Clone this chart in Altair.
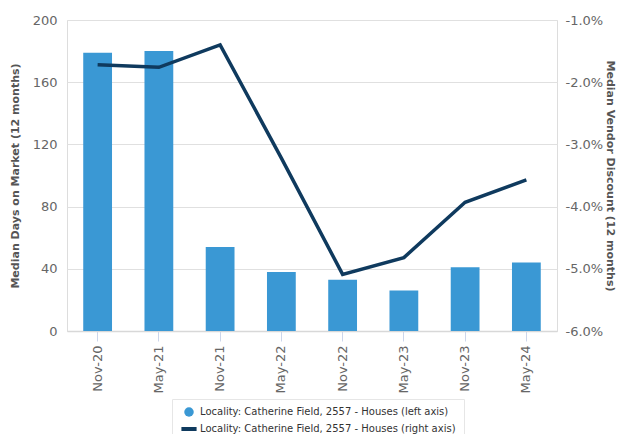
import altair as alt
import pandas as pd

periods = ["Nov-20", "May-21", "Nov-21", "May-22", "Nov-22", "May-23", "Nov-23", "May-24"]
days_on_market = [179, 180, 54, 38, 33, 26, 41, 44]
vendor_discount = [-1.72, -1.76, -1.40, -3.22, -5.09, -4.82, -3.93, -3.57]

bar_name = "Locality: Catherine Field, 2557 - Houses (left axis)"
line_name = "Locality: Catherine Field, 2557 - Houses (right axis)"

bar_color = "#3a98d4"
line_color = "#0f3a5e"

bars_df = pd.DataFrame({"period": periods, "days": days_on_market, "series": bar_name})
line_df = pd.DataFrame({"period": periods, "discount": vendor_discount, "series": line_name})

FONT = "DejaVu Sans"
LABEL_COLOR = "#666666"

x_enc = alt.X(
    "period:N",
    sort=periods,
    title=None,
    scale=alt.Scale(paddingInner=0, paddingOuter=0),
    axis=alt.Axis(
        labelAngle=-90,
        labelFontSize=13,
        labelColor=LABEL_COLOR,
        labelPadding=4,
        tickColor="#ccd6eb",
        tickSize=10,
        domainColor="#d8d8d8",
        domainWidth=1.5,
        grid=False,
    ),
)

color_scale = alt.Scale(domain=[bar_name, line_name], range=[bar_color, line_color])
shape_scale = alt.Scale(
    domain=[bar_name, line_name],
    range=["circle", "M-1.6,-0.42L1.6,-0.42L1.6,0.42L-1.6,0.42Z"],
)

bars = alt.Chart(bars_df).mark_bar(width={"band": 0.47}, color=bar_color).encode(
    x=x_enc,
    y=alt.Y(
        "days:Q",
        title="Median Days on Market (12 months)",
        scale=alt.Scale(domain=[0, 200], nice=False),
        axis=alt.Axis(
            values=[0, 40, 80, 120, 160, 200],
            labelFontSize=13,
            labelColor=LABEL_COLOR,
            labelPadding=10,
            ticks=False,
            domain=False,
            gridColor="#e0e0e0",
            titleFontSize=11,
            titleFontWeight="bold",
            titleColor="#555555",
            titlePadding=12,
        ),
    ),
)

right_y = alt.Y(
    "discount:Q",
    title="Median Vendor Discount (12 months)",
    scale=alt.Scale(domain=[-6, -1], nice=False),
    axis=alt.Axis(
        orient="right",
        values=[-6, -5, -4, -3, -2, -1],
        labelExpr="(datum.value < 0 ? '-' : '') + format(abs(datum.value), '.1f') + '%'",
        labelFontSize=13,
        labelColor=LABEL_COLOR,
        labelPadding=8,
        ticks=False,
        domain=False,
        grid=False,
        titleFontSize=11,
        titleFontWeight="bold",
        titleColor="#555555",
        titleAngle=90,
        titleBaseline="bottom",
        titlePadding=2,
    ),
)

line = alt.Chart(line_df).mark_line(color=line_color, strokeWidth=3.5).encode(
    x=x_enc,
    y=right_y,
)

legend_pts = alt.Chart(line_df).transform_filter("false").mark_point(filled=True, opacity=1).encode(
    x=x_enc,
    y=right_y,
    color=alt.Color("series:N", scale=color_scale, title=None),
    shape=alt.Shape("series:N", scale=shape_scale, title=None),
)

right_layer = alt.layer(line, legend_pts)

chart = (
    alt.layer(bars, right_layer)
    .resolve_scale(y="independent")
    .properties(
        width=490,
        height=311,
        autosize=alt.AutoSizeParams(type="none"),
        padding={"left": 59, "top": 12, "right": 59, "bottom": 106},
    )
    .configure_view(stroke=None, strokeWidth=0)
    .configure(font=FONT)
    .configure_legend(
        orient="none",
        legendX=105,
        legendY=379,
        direction="vertical",
        symbolSize=90,
        symbolOffset=4,
        symbolStrokeWidth=0,
        labelFontSize=10,
        labelColor="#333333",
        labelOffset=6,
        labelLimit=0,
        rowPadding=7,
        padding=8,
        strokeColor="#e6e6e6",
        fillColor="white",
        cornerRadius=0,
    )
)

chart.save("out.html", embed_options={"renderer": "svg", "actions": False})
